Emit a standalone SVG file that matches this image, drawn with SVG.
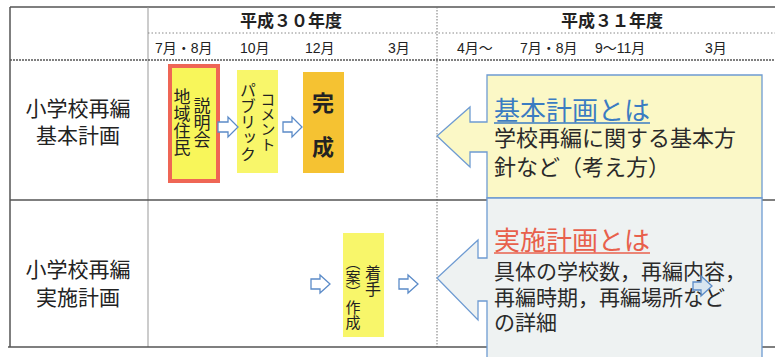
<svg xmlns="http://www.w3.org/2000/svg" width="775" height="357" viewBox="0 0 775 357">
<style>
.jp{font-family:"Noto Sans CJK JP","Liberation Sans",sans-serif;fill:#222}
.mo{font-family:"Liberation Sans","Noto Sans CJK JP",sans-serif;font-size:14px;fill:#222}
.yr{font-family:"Noto Sans CJK JP",sans-serif;font-size:17px;font-weight:bold;fill:#222}
.lbl{font-family:"Noto Sans CJK JP",sans-serif;font-size:21px;fill:#222;text-anchor:middle}
.vt{font-family:"Noto Sans CJK JP",sans-serif;writing-mode:vertical-rl;fill:#222}
.arr{fill:#fff;stroke:#5b8bc8;stroke-width:1.3}
.call{stroke:#6e9bd2;stroke-width:1.3}
.body{font-family:"Noto Sans CJK JP",sans-serif;fill:#2a2a2a}
</style>
<rect width="775" height="357" fill="#fff"/>
<g id="table">
<line x1="10" y1="7" x2="775" y2="7" stroke="#555" stroke-width="1.5"/>
<line x1="10" y1="7" x2="10" y2="347" stroke="#555" stroke-width="1.5"/>
<line x1="148" y1="7" x2="148" y2="347" stroke="#999" stroke-width="1"/>
<line x1="437" y1="7" x2="437" y2="347" stroke="#777" stroke-width="1" stroke-dasharray="1.5,1.5"/>
<line x1="148" y1="33" x2="775" y2="33" stroke="#888" stroke-width="1" stroke-dasharray="1.5,2"/>
<line x1="10" y1="60" x2="775" y2="60" stroke="#555" stroke-width="1.3" stroke-dasharray="2,1"/>
<line x1="10" y1="200" x2="775" y2="200" stroke="#555" stroke-width="1.3"/>
<line x1="8" y1="347" x2="775" y2="347" stroke="#555" stroke-width="1.5"/>
</g>
<g id="header">
<text class="yr" x="291" y="27" text-anchor="middle">平成３０年度</text>
<text class="yr" x="612" y="27" text-anchor="middle">平成３１年度</text>
<text class="mo" x="155" y="53">7月・8月</text>
<text class="mo" x="240" y="53">10月</text>
<text class="mo" x="305" y="53">12月</text>
<text class="mo" x="388" y="53">3月</text>
<text class="mo" x="457" y="53">4月～</text>
<text class="mo" x="520" y="53">7月・8月</text>
<text class="mo" x="595" y="53">9～11月</text>
<text class="mo" x="705" y="53">3月</text>
</g>
<g id="row1-label">
<text class="lbl" x="78" y="116">小学校再編</text>
<text class="lbl" x="78" y="143">基本計画</text>
</g>
<g id="row2-label">
<text class="lbl" x="78" y="277">小学校再編</text>
<text class="lbl" x="78" y="305">実施計画</text>
</g>
<g id="node-setsumeikai">
<rect x="170" y="66" width="48" height="115" fill="#f8f65a" stroke="#ef6655" stroke-width="4"/>
<text class="vt" x="182" y="88" font-size="17">地域住民</text>
<text class="vt" x="202" y="97" font-size="17">説明会</text>
</g>
<g id="node-comment">
<rect x="237" y="70" width="41" height="103" fill="#f8f66a"/>
<text class="vt" x="248" y="82" font-size="16">パブリック</text>
<text class="vt" x="268" y="92" font-size="15">コメント</text>
</g>
<g id="node-kansei">
<rect x="303" y="72" width="41" height="101" fill="#f5c232"/>
<text class="jp" x="323" y="111" font-size="22" text-anchor="middle" font-weight="bold">完</text>
<text class="jp" x="323" y="155" font-size="22" text-anchor="middle" font-weight="bold">成</text>
</g>
<g id="node-sakusei">
<rect x="343" y="233" width="41" height="104" fill="#f8f66a"/>
<text class="vt" x="353" y="255" font-size="15">（案）作成</text>
<text class="vt" x="373" y="265" font-size="16">着手</text>
</g>
<g id="callout-kihon">
<path class="call" d="M487,75 H762 V198 H487 V152 H470 V167 L437,136 L470,107 V122 H487 Z" fill="#fbf8c6"/>
<text class="body" x="494" y="120" font-size="26" fill="#3b7cc2" style="fill:#3b7cc2">基本計画とは</text>
<line x1="494" y1="123" x2="650" y2="123" stroke="#3b7cc2" stroke-width="1.3"/>
<text class="body" x="494" y="146" font-size="22">学校再編に関する基本方</text>
<text class="body" x="494" y="175" font-size="22">針など（考え方）</text>
</g>
<g id="callout-jisshi">
<path class="call" d="M487,198 H762 V362 H487 V301 H478 V320 L437,278 L478,240 V258 H487 Z" fill="#eef2f2"/>
<text class="body" x="494" y="250" font-size="26" style="fill:#e8604c">実施計画とは</text>
<line x1="494" y1="253" x2="650" y2="253" stroke="#e8604c" stroke-width="1.3"/>
<text class="body" x="494" y="279" font-size="21">具体の学校数，再編内容，</text>
<text class="body" x="494" y="305" font-size="21">再編時期，再編場所など</text>
<text class="body" x="494" y="330" font-size="21">の詳細</text>
</g>
<g id="connectors">
<path class="arr" d="M218,122 H228 V117 L238,127 L228,137 V132 H218 Z"/>
<path class="arr" d="M283,122 H292 V117 L302,127 L292,137 V132 H283 Z"/>
<path class="arr" d="M311,279 H320 V275 L330,284 L320,293 V289 H311 Z"/>
<path class="arr" d="M399,279 H408 V275 L418,284 L408,293 V289 H399 Z"/>
<path d="M693,282 H701 V276 L712,286 L701,296 V290 H693 Z" fill="#c9dcef" fill-opacity="0.6" stroke="#5b8bc8" stroke-width="1.3"/>
</g>
</svg>
